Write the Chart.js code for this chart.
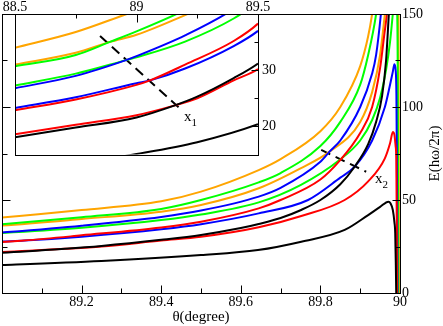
<!DOCTYPE html>
<html>
<head>
<meta charset="utf-8">
<script src="https://cdn.jsdelivr.net/npm/chart.js@4.4.0/dist/chart.umd.min.js"></script>
<style>
  html, body { margin: 0; padding: 0; background: #fff; }
  #wrap { position: relative; width: 443px; height: 326px; }
  canvas { position: absolute; left: 0; top: 0; }
</style>
</head>
<body>
<div id="wrap">
  <canvas id="main" width="443" height="326"></canvas>
  <canvas id="inset" width="300" height="167"></canvas>
</div>
<script>
// levels, theta in degrees, E in units of h*omega/2pi

// black, lower branch (peaks near 50 then drops)
var blackLowTheta = [88.5, 88.75, 89.0, 89.25, 89.5, 89.643, 89.752, 89.861, 89.92, 89.95, 89.971, 89.976, 89.982, 89.986, 89.988, 89.9895, 89.9905];
var blackLowE = [12.0, 13.4, 15.1, 17.2, 20.4, 23.1, 27.6, 33.9, 41.9, 46.3, 49.1, 48.3, 44.6, 38, 32, 15, 0];
// black, upper branch (diverges)
var blackUpTheta = [88.5, 88.75, 89.0, 89.158, 89.25, 89.4, 89.5, 89.6, 89.645, 89.7, 89.75, 89.8, 89.85, 89.886, 89.92, 89.94, 89.955, 89.965, 89.972, 89.98];
var blackUpE = [18.1, 19.8, 21.6, 23.75, 25.3, 28.6, 31.2, 34.9, 37.1, 40.3, 44.5, 50, 58.5, 67.9, 80, 92, 106, 125, 150, 178];
// red
var redLowTheta = [88.5, 88.75, 89.0, 89.158, 89.25, 89.4, 89.5, 89.645, 89.752, 89.861, 89.92, 89.962, 89.975, 89.982, 89.986, 89.989, 89.9907, 89.9918, 89.9925];
var redLowE = [18.6, 20.3, 22.0, 23.75, 25.0, 28.2, 30.2, 35.3, 41.4, 50, 60, 72.4, 80.5, 86.5, 85, 79, 72, 40, 0];
var redUpTheta = [88.5, 88.75, 89.0, 89.056, 89.2, 89.4, 89.5, 89.645, 89.7, 89.8, 89.848, 89.9, 89.93, 89.95, 89.96, 89.967, 89.975];
var redUpE = [22.9, 24.8, 27.4, 28.2, 31.0, 35.2, 38.3, 45.5, 50.0, 61.0, 71.0, 86, 100, 121, 138, 150, 172];
// blue
var blueLowTheta = [88.5, 88.75, 89.0, 89.056, 89.2, 89.4, 89.5, 89.645, 89.769, 89.85, 89.886, 89.93, 89.962, 89.975, 89.982, 89.986, 89.989, 89.991, 89.9928, 89.9937];
var blueLowE = [23.3, 25.2, 27.7, 28.2, 30.3, 34.3, 37.0, 42.8, 50.0, 62.0, 67.9, 82, 100, 112, 119, 123, 120, 106, 50, 0];
var blueUpTheta = [88.5, 88.75, 88.957, 89.0, 89.2, 89.4, 89.5, 89.645, 89.7, 89.8, 89.823, 89.85, 89.9, 89.93, 89.94, 89.952, 89.96];
var blueUpE = [26.8, 29.0, 31.8, 32.5, 36.2, 40.9, 44.3, 51.8, 56.5, 70.5, 76, 82, 100, 118, 128, 150, 170];
// green
var greenLowTheta = [88.5, 88.75, 88.957, 89.0, 89.2, 89.4, 89.5, 89.645, 89.75, 89.848, 89.9, 89.93, 89.95, 89.965, 89.975, 89.982, 89.988, 89.992, 89.9945, 89.9955];
var greenLowE = [27.3, 29.4, 31.8, 32.3, 35.1, 39.2, 42.2, 48.7, 58, 71.5, 82, 93, 105, 120, 135, 150, 162, 156, 110, 0];
var greenUpTheta = [88.5, 88.75, 88.891, 89.0, 89.2, 89.4, 89.5, 89.645, 89.7, 89.8, 89.85, 89.9, 89.92, 89.94, 89.95];
var greenUpE = [30.7, 32.7, 35.05, 36.9, 40.7, 45.2, 50.0, 59.5, 64.5, 79, 92, 112, 128, 150, 168];
// orange
var orangeLowTheta = [88.5, 88.75, 88.891, 89.0, 89.2, 89.4, 89.5, 89.645, 89.75, 89.823, 89.9, 89.93, 89.95, 89.962, 89.975, 89.985, 89.992, 89.996, 89.9975];
var orangeLowE = [31.0, 33.1, 35.05, 36.3, 39.8, 43.7, 47.3, 56.3, 67, 76, 92, 108, 128, 150, 175, 195, 200, 160, 0];
var orangeUpTheta = [88.5, 88.75, 88.96, 89.0, 89.2, 89.4, 89.5, 89.645, 89.7, 89.8, 89.85, 89.9, 89.92, 89.93, 89.94];
var orangeUpE = [34.0, 36.8, 40.0, 40.6, 44.6, 49.3, 54.5, 66.1, 72, 87, 100, 122, 138, 150, 166];

// dashed guide lines through the crossings
var x1Theta = [88.85, 89.187];
var x1E = [36.07, 22.86];
var x2Theta = [89.802, 89.915];
var x2E = [76.9, 65.2];
var x1Label = [89.1955, 20.89];
var x2Label = [89.937, 59.14];

// tick labels
var mainXTicks = [89.2, 89.4, 89.6, 89.8, 90];
var mainYTicks = [0, 50, 100, 150];
var insetXTicks = [88.5, 89, 89.5];
var insetYTicks = [20, 30];

var serif = '"Liberation Serif", "Times New Roman", serif';

function series(theta, e) {
  return theta.map(function (t, i) { return { x: t, y: e[i] }; });
}

function labelIf(v, list) {
  for (var i = 0; i < list.length; i++) {
    if (Math.abs(list[i] - v) < 1e-6) return String(+v.toFixed(2));
  }
  return null;
}

var curveDefs = [
  [blackLowTheta, blackLowE, '#000000'],
  [blackUpTheta, blackUpE, '#000000'],
  [redLowTheta, redLowE, '#ff0000'],
  [redUpTheta, redUpE, '#ff0000'],
  [blueLowTheta, blueLowE, '#0000ff'],
  [blueUpTheta, blueUpE, '#0000ff'],
  [greenLowTheta, greenLowE, '#00ff00'],
  [greenUpTheta, greenUpE, '#00ff00'],
  [orangeLowTheta, orangeLowE, '#ffa500'],
  [orangeUpTheta, orangeUpE, '#ffa500']
];

function buildDatasets(dashTheta, dashE) {
  var sets = curveDefs.map(function (c) {
    return {
      data: series(c[0], c[1]),
      borderColor: c[2],
      borderWidth: 2,
      pointRadius: 0,
      fill: false,
      cubicInterpolationMode: 'monotone',
      clip: 0
    };
  });
  sets.push({
    data: series(dashTheta, dashE),
    borderColor: '#000000',
    borderWidth: 2,
    borderDash: [10, 6],
    pointRadius: 0,
    fill: false
  });
  return sets;
}

// box around the plot area plus inward tick marks
var frameAndTicks = {
  id: 'frameAndTicks',
  beforeDraw: function (chart, args, opts) {
    if (!opts.fill) return;
    var a = chart.chartArea, ctx = chart.ctx;
    ctx.save();
    ctx.fillStyle = opts.fill;
    ctx.fillRect(a.left, a.top, a.right - a.left, a.bottom - a.top);
    ctx.restore();
  },
  afterDraw: function (chart, args, opts) {
    var a = chart.chartArea, ctx = chart.ctx;
    var L = Math.round(a.left) + 0.5, R = Math.round(a.right) + 0.5;
    var T = Math.round(a.top) + 0.5, B = Math.round(a.bottom) + 0.5;
    ctx.save();
    ctx.strokeStyle = '#000';
    ctx.lineWidth = 1;
    ctx.strokeRect(L, T, R - L, B - T);
    ctx.beginPath();
    (opts.marks || []).forEach(function (m) {
      var s = chart.scales[m.scale];
      m.values.forEach(function (v) {
        var p = Math.round(s.getPixelForValue(v)) + 0.5;
        if (m.side === 'bottom') { ctx.moveTo(p, B); ctx.lineTo(p, B - m.len); }
        if (m.side === 'top') { ctx.moveTo(p, T); ctx.lineTo(p, T + m.len); }
        if (m.side === 'left') { ctx.moveTo(L, p); ctx.lineTo(L + m.len, p); }
        if (m.side === 'right') { ctx.moveTo(R, p); ctx.lineTo(R - m.len, p); }
      });
    });
    ctx.stroke();
    ctx.restore();
  }
};

// x1 / x2 labels and the axis titles
var textMarks = {
  id: 'textMarks',
  afterDraw: function (chart, args, opts) {
    var ctx = chart.ctx, a = chart.chartArea;
    ctx.save();
    ctx.fillStyle = '#000';
    ctx.textAlign = 'left';
    ctx.textBaseline = 'alphabetic';
    (opts.labels || []).forEach(function (l) {
      var px = chart.scales.x.getPixelForValue(l.at[0]);
      var py = chart.scales.y.getPixelForValue(l.at[1]);
      ctx.font = '15px ' + serif;
      ctx.fillText(l.text, px, py);
      var w = ctx.measureText(l.text).width;
      ctx.font = '11px ' + serif;
      ctx.fillText(l.sub, px + w, py + 5);
    });
    ctx.font = '15px ' + serif;
    ctx.textAlign = 'center';
    ctx.textBaseline = 'middle';
    if (opts.xTitle) {
      ctx.fillText(opts.xTitle, (a.left + a.right) / 2, a.bottom + 24);
    }
    if (opts.yTitle) {
      ctx.translate(a.right + 35, (a.top + a.bottom) / 2);
      ctx.rotate(-Math.PI / 2);
      ctx.fillText(opts.yTitle, 0, 0);
    }
    ctx.restore();
  }
};

var tickFont = { family: serif, size: 14 };

new Chart(document.getElementById('main'), {
  type: 'line',
  data: { datasets: buildDatasets(x2Theta, x2E) },
  options: {
    responsive: false,
    animation: false,
    layout: { padding: { left: 2, top: 14, right: 0, bottom: 0 } },
    plugins: {
      legend: { display: false },
      tooltip: { enabled: false },
      frameAndTicks: {
        marks: [
          { scale: 'x', side: 'bottom', values: [89.2, 89.4, 89.6, 89.8], len: 8 },
          { scale: 'x', side: 'bottom', values: [89.1, 89.3, 89.5, 89.7, 89.9], len: 5 },
          { scale: 'y', side: 'left', values: [50, 100], len: 8 },
          { scale: 'y', side: 'left', values: [25, 75, 125], len: 5 },
          { scale: 'y', side: 'right', values: [50, 100], len: 8 },
          { scale: 'y', side: 'right', values: [25, 75, 125], len: 5 }
        ]
      },
      textMarks: {
        labels: [{ at: x2Label, text: 'x', sub: '2' }],
        xTitle: 'θ(degree)',
        yTitle: 'E(hω/2π)'
      }
    },
    scales: {
      x: {
        type: 'linear', min: 89, max: 90,
        grid: { display: false, drawTicks: false },
        border: { display: false },
        ticks: {
          stepSize: 0.1, autoSkip: false, maxRotation: 0, padding: 1,
          color: '#000', font: tickFont,
          callback: function (v) { return labelIf(v, mainXTicks); }
        },
        afterFit: function (s) { s.height = 33; }
      },
      y: {
        type: 'linear', position: 'right', min: 0, max: 150,
        grid: { display: false, drawTicks: false },
        border: { display: false },
        ticks: {
          stepSize: 25, autoSkip: false, padding: 2,
          color: '#000', font: tickFont,
          callback: function (v) { return labelIf(v, mainYTicks); }
        },
        afterFit: function (s) { s.width = 43; }
      }
    }
  },
  plugins: [frameAndTicks, textMarks]
});

new Chart(document.getElementById('inset'), {
  type: 'line',
  data: { datasets: buildDatasets(x1Theta, x1E) },
  options: {
    responsive: false,
    animation: false,
    layout: { padding: { left: 15, top: 0, right: 0, bottom: 6 } },
    plugins: {
      legend: { display: false },
      tooltip: { enabled: false },
      frameAndTicks: {
        fill: '#ffffff',
        marks: [
          { scale: 'x', side: 'top', values: [89], len: 8 },
          { scale: 'x', side: 'top', values: [88.75, 89.25], len: 4 },
          { scale: 'y', side: 'right', values: [20, 30], len: 7 },
          { scale: 'y', side: 'right', values: [25, 35], len: 4 }
        ]
      },
      textMarks: {
        labels: [{ at: x1Label, text: 'x', sub: '1' }]
      }
    },
    scales: {
      x: {
        type: 'linear', position: 'top', min: 88.5, max: 89.5,
        grid: { display: false, drawTicks: false },
        border: { display: false },
        ticks: {
          stepSize: 0.25, autoSkip: false, maxRotation: 0, padding: -2,
          color: '#000', font: tickFont,
          callback: function (v) { return labelIf(v, insetXTicks); }
        },
        afterFit: function (s) { s.height = 14; }
      },
      y: {
        type: 'linear', position: 'right', min: 15, max: 40,
        grid: { display: false, drawTicks: false },
        border: { display: false },
        ticks: {
          stepSize: 5, autoSkip: false, padding: 4,
          color: '#000', font: tickFont,
          callback: function (v) { return labelIf(v, insetYTicks); }
        },
        afterFit: function (s) { s.width = 42; }
      }
    }
  },
  plugins: [frameAndTicks, textMarks]
});
</script>
</body>
</html>
